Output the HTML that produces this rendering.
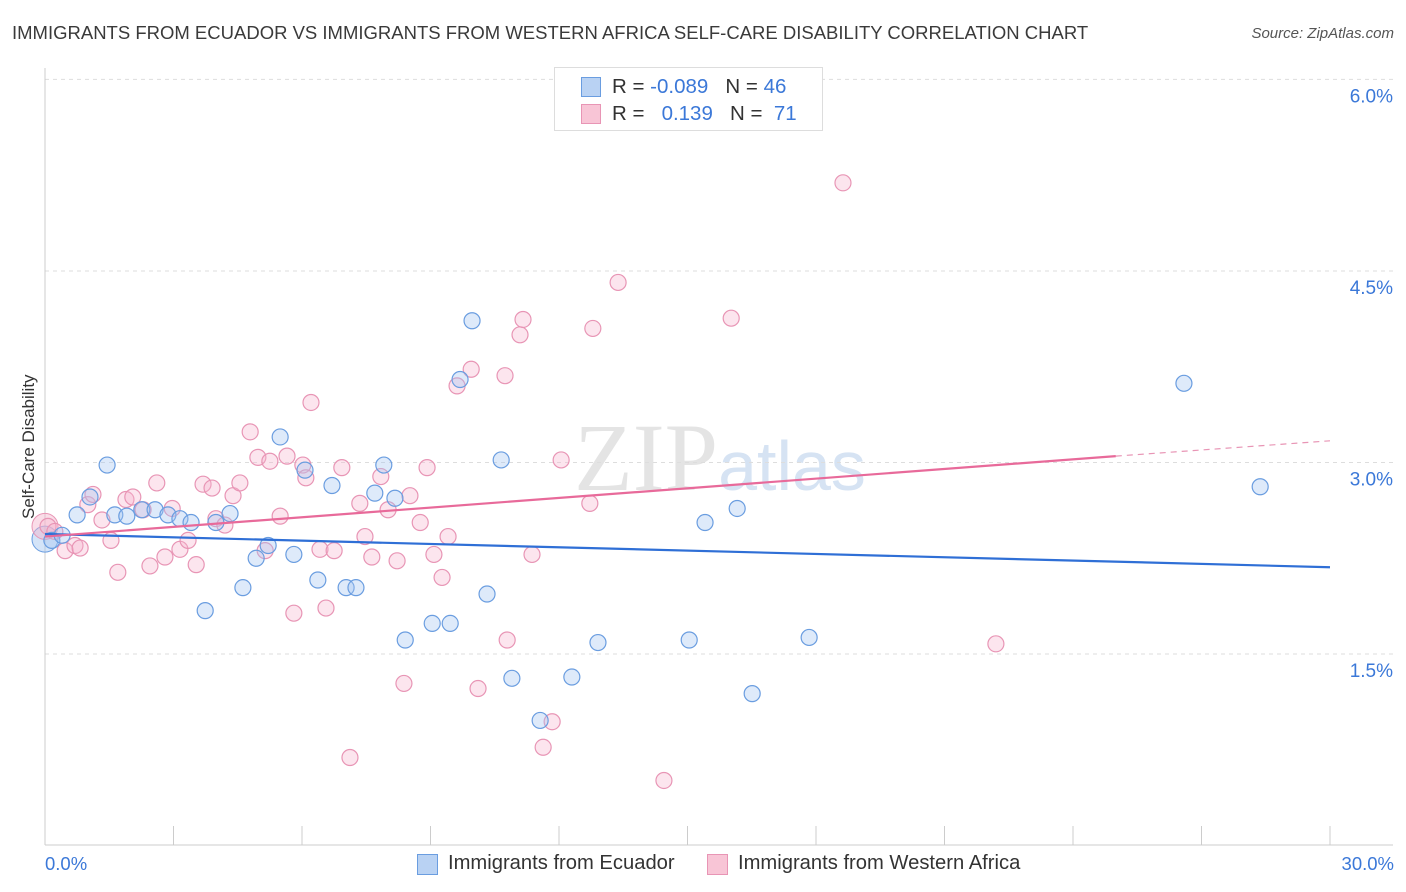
<!DOCTYPE html>
<html><head><meta charset="utf-8"><style>
body{margin:0;background:#fff;font-family:"Liberation Sans",sans-serif;}
#wrap{position:relative;width:1406px;height:892px;overflow:hidden;}
.t{position:absolute;white-space:nowrap;}
</style></head><body>
<div id="wrap">
<div class="t" style="left:12px;top:22px;font-size:18.5px;color:#3a3a3a;">IMMIGRANTS FROM ECUADOR VS IMMIGRANTS FROM WESTERN AFRICA SELF-CARE DISABILITY CORRELATION CHART</div>
<div class="t" style="right:12px;top:25px;font-size:15px;color:#555;font-style:italic;">Source: ZipAtlas.com</div>
<svg id="svg" width="1406" height="892" style="position:absolute;left:0;top:0">
<text x="720" y="490" text-anchor="middle" font-family="Liberation Serif,serif" font-size="96" fill="#e4e4e4">ZIP<tspan font-family="Liberation Sans,sans-serif" font-size="70" fill="#d6e3f3">atlas</tspan></text>
<g id="g"></g>
</svg>
<div style="position:absolute;left:554px;top:67px;width:267px;height:62px;border:1px solid #ddd;background:#fff;font-size:20.5px;color:#333;">
 <div style="position:absolute;left:26px;top:9px;width:18px;height:18px;background:#b9d2f3;border:1px solid #6a9de0"></div>
 <div class="t" style="left:57px;top:7px">R = <span style="color:#3b78d8">-0.089</span>&nbsp;&nbsp;&nbsp;N = <span style="color:#3b78d8">46</span></div>
 <div style="position:absolute;left:26px;top:36px;width:18px;height:18px;background:#f8c5d6;border:1px solid #e895b5"></div>
 <div class="t" style="left:57px;top:34px">R = &nbsp;&nbsp;<span style="color:#3b78d8">0.139</span>&nbsp;&nbsp;&nbsp;N = &nbsp;<span style="color:#3b78d8">71</span></div>
</div>
<div class="t" style="left:-36px;top:444px;font-size:17px;color:#333;transform:rotate(-90deg);width:130px;text-align:center;">Self-Care Disability</div>
<div class="t" style="left:45px;top:853px;font-size:18.5px;color:#3b78d8;">0.0%</div>
<div class="t" style="right:12px;top:853px;font-size:18.5px;color:#3b78d8;">30.0%</div>
<div style="position:absolute;left:417px;top:854px;width:19px;height:19px;background:#b9d2f3;border:1px solid #6a9de0"></div>
<div class="t" style="left:448px;top:852px;font-size:20.2px;color:#333;">Immigrants from Ecuador</div>
<div style="position:absolute;left:707px;top:854px;width:19px;height:19px;background:#f8c5d6;border:1px solid #e895b5"></div>
<div class="t" style="left:738px;top:852px;font-size:20.2px;color:#333;">Immigrants from Western Africa</div>
</div>
<script>
const yTicks=[1.5,3.0,4.5,6.0];
const yTickLabels=["1.5%","3.0%","4.5%","6.0%"];
const xTicks=[0,3,6,9,12,15,18,21,24,27,30];
const blueX=[0.16,0.40,0.75,1.05,1.45,1.63,1.91,2.26,2.57,2.87,3.15,3.41,3.74,3.99,4.32,4.62,4.93,5.21,5.49,5.81,6.07,6.37,6.70,7.03,7.26,7.70,7.91,8.17,8.41,9.04,9.46,9.69,9.97,10.32,10.65,10.90,11.56,12.30,12.91,15.04,15.41,16.16,16.51,17.84,26.59,28.37];
const blueY=[2.39,2.43,2.59,2.73,2.98,2.59,2.58,2.63,2.63,2.59,2.56,2.53,1.84,2.53,2.60,2.02,2.25,2.35,3.20,2.28,2.94,2.08,2.82,2.02,2.02,2.76,2.98,2.72,1.61,1.74,1.74,3.65,4.11,1.97,3.02,1.31,0.98,1.32,1.59,1.61,2.53,2.64,1.19,1.63,3.62,2.81];
const pinkX=[0.07,0.23,0.47,0.70,0.82,1.00,1.12,1.33,1.54,1.70,1.89,2.05,2.29,2.45,2.61,2.80,2.97,3.15,3.34,3.53,3.69,3.90,3.99,4.20,4.39,4.55,4.79,4.97,5.14,5.25,5.49,5.65,5.81,6.02,6.09,6.21,6.42,6.56,6.75,6.93,7.12,7.35,7.47,7.63,7.84,8.01,8.22,8.38,8.52,8.76,8.92,9.08,9.27,9.41,9.62,9.95,10.11,10.74,10.79,11.09,11.16,11.37,11.63,11.84,12.05,12.72,12.79,13.38,14.45,16.02,18.63,22.20];
const pinkY=[2.50,2.46,2.31,2.35,2.33,2.67,2.75,2.55,2.39,2.14,2.71,2.73,2.63,2.19,2.84,2.26,2.64,2.32,2.39,2.20,2.83,2.80,2.56,2.51,2.74,2.84,3.24,3.04,2.31,3.01,2.58,3.05,1.82,2.98,2.88,3.47,2.32,1.86,2.31,2.96,0.69,2.68,2.42,2.26,2.89,2.63,2.23,1.27,2.74,2.53,2.96,2.28,2.10,2.42,3.60,3.73,1.23,3.68,1.61,4.00,4.12,2.28,0.77,0.97,3.02,2.68,4.05,4.41,0.51,4.13,5.19,1.58];
const blueTrend=[2.44,2.18];
const pinkTrend=[2.42,3.05,3.17];
const pinkTrendX=[0,25,30];
const X=v=>45+v/30*1285, Y=v=>845.6-v*127.7;
const g=document.getElementById('g');
function mk(t,a){const e=document.createElementNS('http://www.w3.org/2000/svg',t);for(const k in a)e.setAttribute(k,a[k]);g.appendChild(e);return e;}
yTicks.forEach((t,i)=>{
 const l=mk('line',{x1:45,x2:1393,y1:Y(t),y2:Y(t),stroke:'#ddd','stroke-dasharray':'4,4'});
 
 
 const tx=mk('text',{x:1393,y:Y(t)+23,'text-anchor':'end','font-size':19,fill:'#3b78d8','font-family':'Liberation Sans,sans-serif'});
 tx.textContent=yTickLabels[i];
 
 
});
const ax=mk('line',{x1:45,x2:45,y1:68,y2:845,stroke:'#ccc'});


const bx=mk('line',{x1:45,x2:1393,y1:845,y2:845,stroke:'#ccc'});


xTicks.forEach(t=>{const l=mk('line',{x1:X(t),x2:X(t),y1:826,y2:845,stroke:'#ccc'});
 
 });
const bb=mk('circle',{cx:X(0),cy:Y(2.4),r:13,fill:'rgba(160,195,240,0.45)',stroke:'#6a9de0'});


const pb=mk('circle',{cx:X(0),cy:Y(2.5),r:13,fill:'rgba(245,180,205,0.45)',stroke:'#e895b5'});


pinkX.forEach((x,i)=>{const c=mk('circle',{cx:X(x),cy:Y(pinkY[i]),r:8,fill:'rgba(245,180,205,0.35)',stroke:'#e895b5','stroke-width':1.2});
 
 });
blueX.forEach((x,i)=>{const c=mk('circle',{cx:X(x),cy:Y(blueY[i]),r:8,fill:'rgba(160,195,240,0.35)',stroke:'#6a9de0','stroke-width':1.2});
 
 });
const bl=mk('line',{x1:X(0),y1:Y(blueTrend[0]),x2:X(30),y2:Y(blueTrend[1]),stroke:'#2f6fd6','stroke-width':2.2});


const pl=mk('line',{x1:X(pinkTrendX[0]),y1:Y(pinkTrend[0]),x2:X(pinkTrendX[1]),y2:Y(pinkTrend[1]),stroke:'#e86a9a','stroke-width':2.2});


const pd=mk('line',{x1:X(pinkTrendX[1]),y1:Y(pinkTrend[1]),x2:X(pinkTrendX[2]),y2:Y(pinkTrend[2]),stroke:'#e895b5','stroke-width':1.2,'stroke-dasharray':'6,5'});


</script>
</body></html>
